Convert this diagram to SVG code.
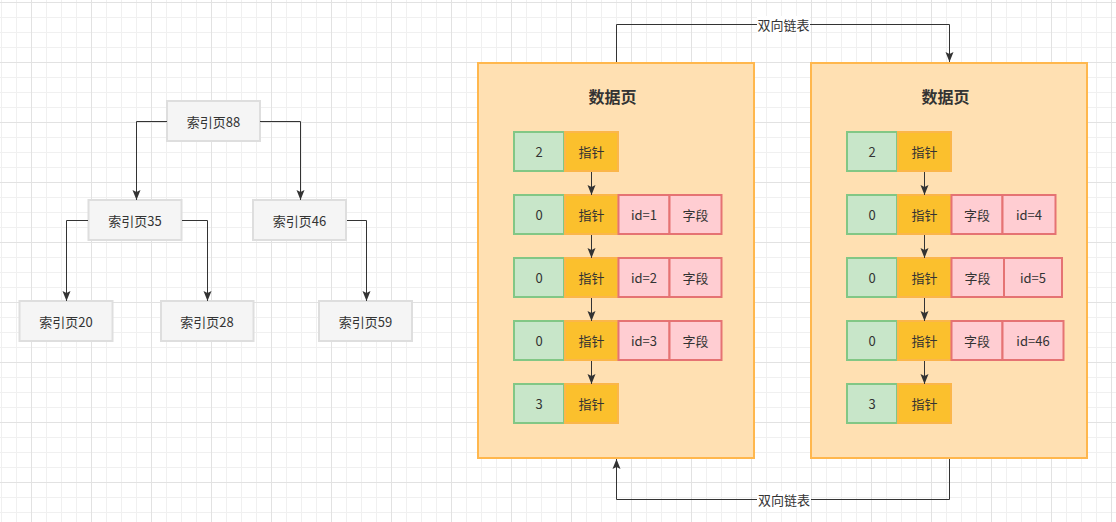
<svg xmlns="http://www.w3.org/2000/svg" width="1116" height="522" viewBox="0 0 1116 522">
<defs>
<pattern id="grid" patternUnits="userSpaceOnUse" x="1" y="2" width="60" height="60">
<rect x="0" y="0" width="60" height="60" fill="#ffffff"/>
<rect x="0" y="0" width="1" height="60" fill="#f0f0f0"/>
<rect x="15" y="0" width="1" height="60" fill="#f0f0f0"/>
<rect x="45" y="0" width="1" height="60" fill="#f0f0f0"/>
<rect x="0" y="15" width="60" height="1" fill="#f0f0f0"/>
<rect x="0" y="30" width="60" height="1" fill="#f0f0f0"/>
<rect x="0" y="45" width="60" height="1" fill="#f0f0f0"/>
<rect x="30" y="0" width="1" height="60" fill="#e2e2e2"/>
<rect x="0" y="0" width="60" height="1" fill="#e2e2e2"/>
</pattern>
<marker id="arr" markerUnits="userSpaceOnUse" markerWidth="10" markerHeight="10" viewBox="0 0 10 10" refX="10" refY="5" orient="auto">
<path d="M0,1 L10,5 L0,9 L2,5 Z" fill="#333333"/>
</marker>
</defs>
<style>
text{font-family:"Noto Sans CJK SC","Liberation Sans",sans-serif;font-size:13px;fill:#333333;text-anchor:middle;dominant-baseline:central}
.tree{fill:#f5f5f5;stroke:#dedede;stroke-width:2}
.page{fill:#ffe0b2;stroke:#ffb74d;stroke-width:2}
.g{fill:#c8e6c9;stroke:#82c785;stroke-width:2}
.y{fill:#fbc02d;stroke:#fbb64a;stroke-width:2}
.p{fill:#ffcdd2;stroke:#e57373;stroke-width:2}
.c{fill:none;stroke:#333333;stroke-width:1;marker-end:url(#arr)}
.title{font-size:16px;font-weight:bold}
.lbl{fill:#ffffff}
</style>
<rect x="0" y="0" width="1116" height="522" fill="url(#grid)"/>

<g id="n88"><rect class="tree" x="167" y="101" width="93" height="40"/><text x="213.5" y="121">索引页88</text></g>
<g id="n35"><rect class="tree" x="88.5" y="200" width="93" height="40"/><text x="135" y="220">索引页35</text></g>
<g id="n46"><rect class="tree" x="253" y="200" width="93" height="40"/><text x="299.5" y="220">索引页46</text></g>
<g id="n20"><rect class="tree" x="19.5" y="301" width="93" height="40"/><text x="66" y="321">索引页20</text></g>
<g id="n28"><rect class="tree" x="161" y="301" width="92.5" height="40"/><text x="207" y="321">索引页28</text></g>
<g id="n59"><rect class="tree" x="319" y="301" width="93" height="40"/><text x="365.5" y="321">索引页59</text></g>

<g id="page1">
<rect class="page" x="478" y="63" width="276" height="395"/>
<text class="title" x="612.5" y="96">数据页</text>
<rect class="g" x="514" y="132" width="50" height="39"/><rect class="y" x="565" y="132" width="53" height="39"/>
<text x="539" y="151.5">2</text><text x="591.5" y="151.5">指针</text>
<rect class="g" x="514" y="195" width="50" height="39"/><rect class="y" x="565" y="195" width="53" height="39"/>
<rect class="p" x="618.5" y="195" width="51" height="39"/><rect class="p" x="669.5" y="195" width="52" height="39"/>
<text x="539" y="214.5">0</text><text x="591.5" y="214.5">指针</text><text x="644" y="214.5">id=1</text><text x="695.5" y="214.5">字段</text>
<rect class="g" x="514" y="258" width="50" height="39"/><rect class="y" x="565" y="258" width="53" height="39"/>
<rect class="p" x="618.5" y="258" width="51" height="39"/><rect class="p" x="669.5" y="258" width="52" height="39"/>
<text x="539" y="277.5">0</text><text x="591.5" y="277.5">指针</text><text x="644" y="277.5">id=2</text><text x="695.5" y="277.5">字段</text>
<rect class="g" x="514" y="321" width="50" height="39"/><rect class="y" x="565" y="321" width="53" height="39"/>
<rect class="p" x="618.5" y="321" width="51" height="39"/><rect class="p" x="669.5" y="321" width="52" height="39"/>
<text x="539" y="340.5">0</text><text x="591.5" y="340.5">指针</text><text x="644" y="340.5">id=3</text><text x="695.5" y="340.5">字段</text>
<rect class="g" x="514" y="384" width="50" height="39"/><rect class="y" x="565" y="384" width="53" height="39"/>
<text x="539" y="403.5">3</text><text x="591.5" y="403.5">指针</text>
</g>

<g id="page2">
<rect class="page" x="811" y="63" width="276" height="395"/>
<text class="title" x="945.5" y="96">数据页</text>
<rect class="g" x="847" y="132" width="50" height="39"/><rect class="y" x="898" y="132" width="53" height="39"/>
<text x="872" y="151.5">2</text><text x="924.5" y="151.5">指针</text>
<rect class="g" x="847" y="195" width="50" height="39"/><rect class="y" x="898" y="195" width="53" height="39"/>
<rect class="p" x="951.5" y="195" width="51" height="39"/><rect class="p" x="1002.5" y="195" width="53" height="39"/>
<text x="872" y="214.5">0</text><text x="924.5" y="214.5">指针</text><text x="977" y="214.5">字段</text><text x="1029" y="214.5">id=4</text>
<rect class="g" x="847" y="258" width="50" height="39"/><rect class="y" x="898" y="258" width="53" height="39"/>
<rect class="p" x="951.5" y="258" width="52.5" height="39"/><rect class="p" x="1004" y="258" width="58" height="39"/>
<text x="872" y="277.5">0</text><text x="924.5" y="277.5">指针</text><text x="977.5" y="277.5">字段</text><text x="1033" y="277.5">id=5</text>
<rect class="g" x="847" y="321" width="50" height="39"/><rect class="y" x="898" y="321" width="53" height="39"/>
<rect class="p" x="951.5" y="321" width="51" height="39"/><rect class="p" x="1002.5" y="321" width="61" height="39"/>
<text x="872" y="340.5">0</text><text x="924.5" y="340.5">指针</text><text x="977" y="340.5">字段</text><text x="1033" y="340.5">id=46</text>
<rect class="g" x="847" y="384" width="50" height="39"/><rect class="y" x="898" y="384" width="53" height="39"/>
<text x="872" y="403.5">3</text><text x="924.5" y="403.5">指针</text>
</g>

<g id="connectors">
<path class="c" d="M167,121.5 H136.5 V200"/>
<path class="c" d="M260,121.5 H300.5 V200"/>
<path class="c" d="M88,220.5 H66.5 V301"/>
<path class="c" d="M182,220.5 H207.5 V301"/>
<path class="c" d="M347,220.5 H366.5 V301"/>
<path class="c" d="M591.5,172 V195"/>
<path class="c" d="M591.5,235 V258"/>
<path class="c" d="M591.5,298 V321"/>
<path class="c" d="M591.5,361 V384"/>
<path class="c" d="M924.5,172 V195"/>
<path class="c" d="M924.5,235 V258"/>
<path class="c" d="M924.5,298 V321"/>
<path class="c" d="M924.5,361 V384"/>
<path class="c" d="M616.5,62 V24.5 H949.5 V62"/>
<path class="c" d="M949.5,459 V499.5 H616.5 V459"/>
<rect class="lbl" x="757" y="16" width="53" height="17"/>
<text x="783.5" y="24.5">双向链表</text>
<rect class="lbl" x="757" y="491" width="54" height="17"/>
<text x="784" y="499.5">双向链表</text>
</g>
</svg>
